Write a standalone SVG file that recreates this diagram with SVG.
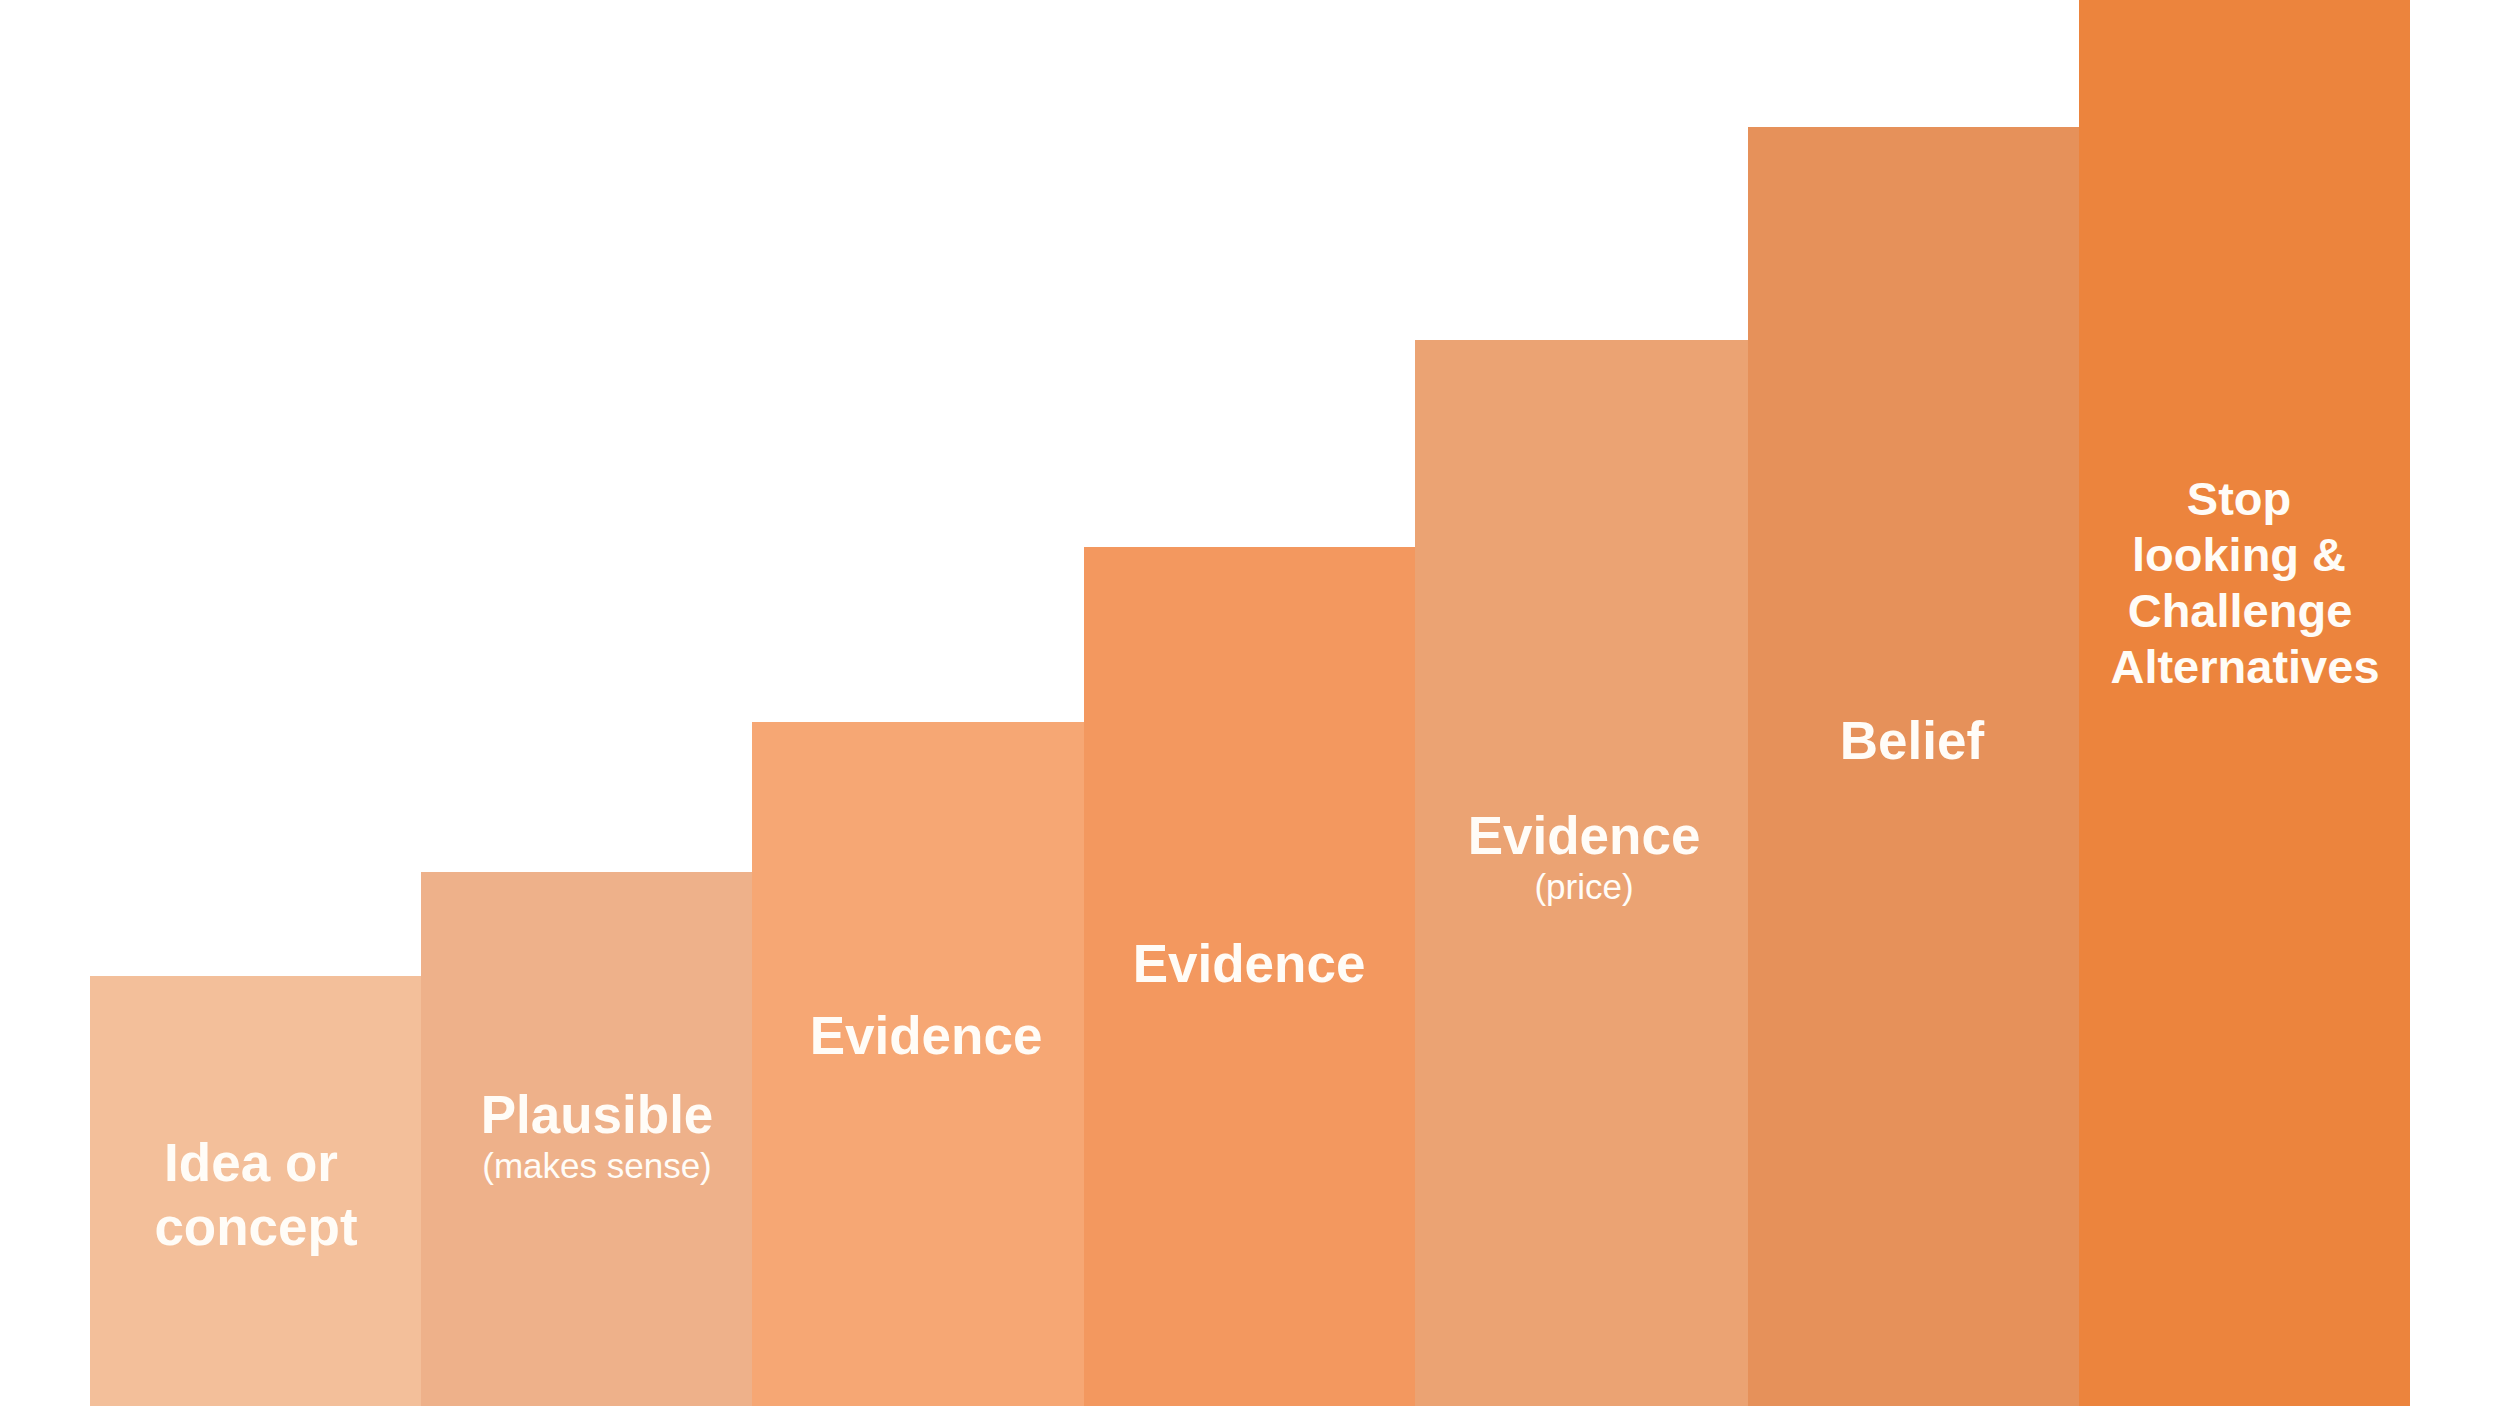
<svg xmlns="http://www.w3.org/2000/svg" width="2499" height="1406" viewBox="0 0 2499 1406">
  <style>
    .t { font-family: "Liberation Sans", Arial, sans-serif; fill: #FFFCF7; text-anchor: middle; }
    .b { font-weight: bold; font-size: 53px; }
    .s { font-weight: bold; font-size: 47px; }
    .r { font-weight: normal; font-size: 35px; }
  </style>
  <rect x="0" y="0" width="2499" height="1406" fill="#FFFFFF"/>
  <g id="step1">
    <rect x="90" y="976" width="331" height="430" fill="#F3BF9A"/>
    <text class="t b" x="251" y="1181">Idea or</text>
    <text class="t b" x="256" y="1245">concept</text>
  </g>
  <g id="step2">
    <rect x="421" y="872" width="331" height="534" fill="#EEB18A"/>
    <text class="t b" x="597" y="1133">Plausible</text>
    <text class="t r" x="597" y="1178">(makes sense)</text>
  </g>
  <g id="step3">
    <rect x="752" y="722" width="332" height="684" fill="#F6A774"/>
    <text class="t b" x="926" y="1054">Evidence</text>
  </g>
  <g id="step4">
    <rect x="1084" y="547" width="331" height="859" fill="#F3985F"/>
    <text class="t b" x="1249" y="982">Evidence</text>
  </g>
  <g id="step5">
    <rect x="1415" y="340" width="333" height="1066" fill="#EBA373"/>
    <text class="t b" x="1584" y="854">Evidence</text>
    <text class="t r" x="1584" y="899">(price)</text>
  </g>
  <g id="step6">
    <rect x="1748" y="127" width="331" height="1279" fill="#E6915A"/>
    <text class="t b" x="1912" y="759">Belief</text>
  </g>
  <g id="step7">
    <rect x="2079" y="0" width="331" height="1406" fill="#EC843D"/>
    <text class="t s" x="2239" y="515">Stop</text>
    <text class="t s" x="2239" y="571">looking &amp;</text>
    <text class="t s" x="2240" y="627">Challenge</text>
    <text class="t s" x="2245" y="683">Alternatives</text>
  </g>
  <g id="connectors"/>
</svg>
